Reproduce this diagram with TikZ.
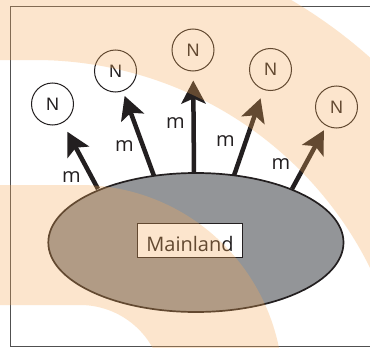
\documentclass[tikz,border=0pt]{standalone}
\usepackage{fontspec}
\setmainfont{Open Sans}
\newfontfamily\nfont{Liberation Sans}
\usetikzlibrary{arrows.meta,shapes.geometric}
\definecolor{ink}{HTML}{231F20}
\definecolor{landgray}{HTML}{939598}
\definecolor{framegray}{HTML}{505050}
\definecolor{wash}{RGB}{247,172,90}
\begin{document}
\begin{tikzpicture}[x=1pt,y=-1pt,
  nnode/.style={circle,draw=ink,line width=1pt,minimum size=42pt,inner sep=0pt,
    font=\nfont\fontsize{18}{20}\selectfont,text=ink},
  mlabel/.style={inner sep=0pt,font=\fontsize{20}{22}\selectfont,text=ink},
  arr/.style={draw=ink,line width=4.5pt,-{Stealth[length=23pt,width=24pt,inset=5pt]}},
  landstyle/.style={ellipse,draw=ink,line width=1.7pt,fill=landgray,
    minimum width=295.2pt,minimum height=139pt,inner sep=0pt},
  boxstyle/.style={draw=ink,line width=1.1pt,fill=white,minimum width=105.4pt,
    minimum height=34.4pt,inner sep=0pt,text height=22pt,text depth=0pt,
    font=\fontsize{20}{22}\selectfont,text=ink},
]
\useasboundingbox (0,0) rectangle (370,348);
\clip (0,0) rectangle (370,348);
\fill[white] (0,0) rectangle (370,348);
\draw[framegray,line width=1pt] (10,6.5) rectangle (375,346.5);

\node[landstyle] (land) at (195.9,242.5) {};
\node[boxstyle] (box) at (190,240.5) {Mainland};

\node[nnode] (n1) at (52.5,104) {N};
\node[nnode] (n2) at (115.5,71) {N};
\node[nnode] (n3) at (193,50) {N};
\node[nnode] (n4) at (270.5,69.5) {N};
\node[nnode] (n5) at (336.5,107) {N};

\coordinate (s1) at (98,189);
\coordinate (s2) at (154,176);
\coordinate (s3) at (194,173.5);
\coordinate (s4) at (234,175.5);
\coordinate (s5) at (292,189);

\draw[arr,shorten >=10pt] (s1) -- (n1);
\draw[arr,shorten >=5pt] (s2) -- (n2);
\draw[arr,shorten >=9pt] (s3) -- (n3);
\draw[arr,shorten >=9pt] (s4) -- (n4);
\draw[arr,shorten >=5pt] (s5) -- (n5);

\node[mlabel] (m1) at (71.5,177.5) {m};
\node[mlabel] (m2) at (124.5,146) {m};
\node[mlabel] (m3) at (175.5,123) {m};
\node[mlabel] (m4) at (225.5,141) {m};
\node[mlabel] (m5) at (281,164) {m};

\fill[wash,fill opacity=0.3]
  (-10,-70) -- (35,-70)
  -- plot[domain=-90:0,samples=90] ({35+504*cos(\x)},{434+504*sin(\x)})
  -- (409,434)
  -- plot[domain=0:-90,samples=90] ({35+374*cos(\x)},{434+374*sin(\x)})
  -- (-10,60) -- cycle
  (-10,185) -- (80,185)
  -- plot[domain=-90:0,samples=60] ({80+203*cos(\x)},{388+203*sin(\x)})
  -- (163,388)
  -- plot[domain=0:-90,samples=60] ({80+83*cos(\x)},{388+83*sin(\x)})
  -- (-10,305) -- cycle;
\end{tikzpicture}
\end{document}
